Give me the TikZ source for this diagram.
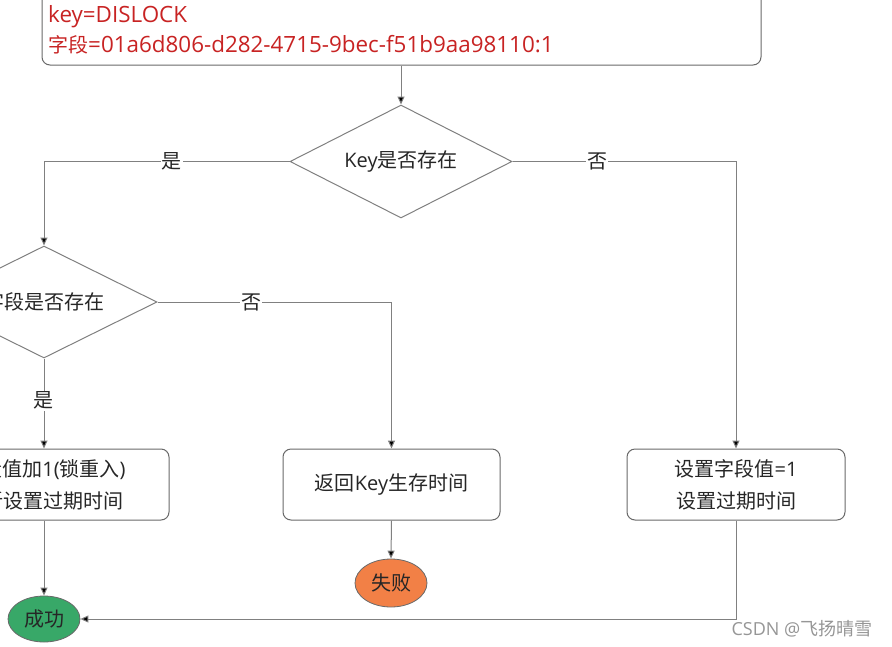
\documentclass[tikz,border=0pt]{standalone}
\usepackage{fontspec}
\setmainfont{Noto Sans CJK SC}
\newfontfamily\latf{Open Sans}
\newcommand{\la}[1]{{\latf #1}}
\newcommand{\lab}[1]{{\latf\fontsize{22.4}{30}\selectfont #1}}
\usetikzlibrary{arrows.meta,shapes.geometric}
\definecolor{lineg}{RGB}{128,128,128}
\definecolor{boxg}{RGB}{105,105,105}
\definecolor{redt}{RGB}{200,35,35}
\definecolor{orangef}{RGB}{242,128,70}
\definecolor{greenf}{RGB}{56,168,104}
\definecolor{txt}{RGB}{38,38,38}
\tikzset{
  base/.style={text=txt, font=\fontsize{20}{32}\selectfont, inner sep=0pt},
  decision/.style={base, diamond, aspect=1.96, draw=lineg, line width=1pt},
  procbox/.style={base, rectangle, rounded corners=8pt, draw=boxg, line width=1pt, align=center},
  term/.style={base, ellipse, draw=boxg, line width=0.8pt},
  conn/.style={draw=lineg, line width=1pt},
  arr/.style={conn, -{Triangle[length=8pt,width=7pt,fill=black]}},
  lbl/.style={base, fill=white, inner sep=1pt},
}
\begin{document}
\begin{tikzpicture}[x=1pt,y=-1pt]
\useasboundingbox (0,0) rectangle (892,646);
\fill[white] (0,0) rectangle (892,646);
% top box
\node[procbox, minimum width=719pt, minimum height=85pt] (top) at (401.5,22.5) {};
\node[base, text=redt, anchor=west, align=left, font=\fontsize{20}{30}\selectfont] (toptext) at (48,30)
  {\lab{key=DISLOCK}\\字段\lab{=01a6d806-d282-4715-9bec-f51b9aa98110:1}};
% decisions
\node[decision, minimum width=222pt, minimum height=113pt] (d1) at (401,161.5) {\la{Key}是否存在};
\node[decision, minimum width=226pt, minimum height=112pt] (d2) at (44,302) {字段是否存在};
% boxes
\node[procbox, minimum width=250pt, minimum height=71pt] (b1) at (44,484.5) {字段值加\la{1(}锁重入\la{)}\\重新设置过期时间};
\node[procbox, minimum width=217pt, minimum height=71pt] (b2) at (391.5,484.5) {返回\la{Key}生存时间};
\node[procbox, minimum width=218pt, minimum height=71pt] (b3) at (736,484.5) {设置字段值\la{=1}\\设置过期时间};
% terminals
\node[term, fill=greenf, minimum width=72pt, minimum height=46pt] (succ) at (44,619) {成功};
\node[term, fill=orangef, minimum width=72pt, minimum height=48pt] (fail) at (391,583) {失败};
% connectors
\draw[arr] (top.south -| d1.north) -- (d1.north);
\draw[arr] (d1.west) -| node[lbl, pos=0.24] {是} (d2.north);
\draw[arr] (d1.east) -| node[lbl, pos=0.19] {否} (b3.north);
\draw[arr] (d2.east) -| node[lbl, pos=0.2] {否} (b2.north);
\draw[arr] (d2.south) -- node[lbl, pos=0.47] {是} (b1.north);
\draw[arr] (b2.south) -- (fail.north);
\draw[arr] (b1.south) -- (succ.north);
\draw[arr] (b3.south) |- (succ.east);
% watermark
\node[base, text={rgb,255:red,150;green,150;blue,150}, font=\fontsize{18}{20}\selectfont] (wm) at (802,629) {\la{CSDN @}飞扬晴雪};
\end{tikzpicture}
\end{document}
